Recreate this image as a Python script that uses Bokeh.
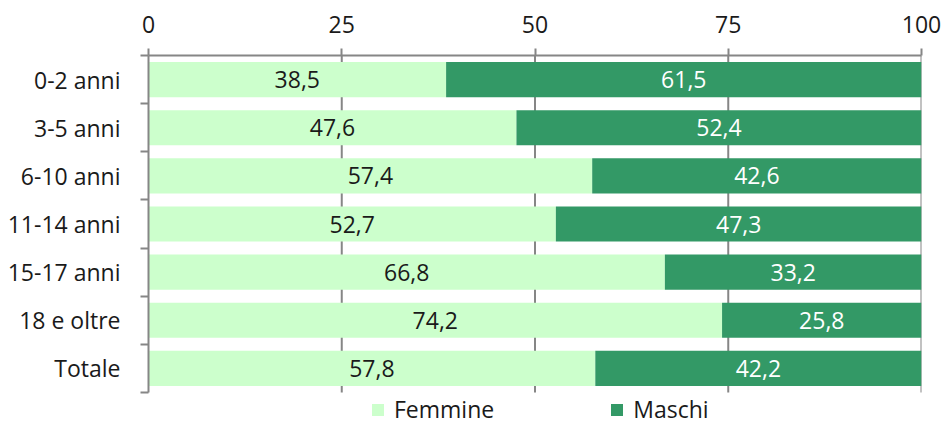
from bokeh.plotting import figure
from bokeh.models import Range1d, FixedTicker, LinearAxis, Legend, LegendItem, ColumnDataSource
from bokeh.core.properties import value
from bokeh.embed import file_html
from bokeh.resources import INLINE

categories = ["0-2 anni", "3-5 anni", "6-10 anni", "11-14 anni", "15-17 anni", "18 e oltre", "Totale"]
femmine = [38.5, 47.6, 57.4, 52.7, 66.8, 74.2, 57.8]
maschi = [61.5, 52.4, 42.6, 47.3, 33.2, 25.8, 42.2]
x_ticks = [0, 25, 50, 75, 100]
series_names = ["Femmine", "Maschi"]
colors = ["#CCFFCC", "#339966"]
text_colors = ["#1a1a1a", "#ffffff"]

FONT = "Open Sans"
FS = "23px"
GRAY = "#868686"

n = len(categories)
centers = [i + 0.5 for i in range(n)]
bounds = [float(i) for i in range(n + 1)]

# layout: rows occupy 337px from top of frame, extra room below for the legend
W, H = 941, 425
TOP, LEFT, RIGHT = 55, 148, 20
rows_px = 337
frame_h = H - TOP
y_extent = n * frame_h / rows_px

p = figure(width=W, height=H, output_backend="svg", toolbar_location=None,
           x_range=Range1d(0, 100), y_range=Range1d(y_extent, 0),
           x_axis_location=None, y_axis_location=None,
           min_border_left=LEFT, min_border_right=RIGHT, min_border_top=TOP, min_border_bottom=0)
p.outline_line_color = None
p.background_fill_color = "white"

# top axis
xa = LinearAxis(ticker=FixedTicker(ticks=x_ticks, minor_ticks=[]))
xa.axis_line_color = GRAY
xa.axis_line_width = 2
xa.major_tick_line_color = GRAY
xa.major_tick_line_width = 2
xa.major_tick_out = 7
xa.major_tick_in = 0
xa.minor_tick_line_color = None
xa.major_label_text_font = FONT
xa.major_label_text_font_size = FS
xa.major_label_text_color = "#1a1a1a"
xa.major_label_standoff = 16
p.add_layout(xa, "above")

# left axis: labels at centers, ticks at boundaries (minor)
ya = LinearAxis(ticker=FixedTicker(ticks=centers, minor_ticks=bounds), bounds=(0, n))
ya.major_label_overrides = {c: lab for c, lab in zip(centers, categories)}
ya.axis_line_color = GRAY
ya.axis_line_width = 2
ya.major_tick_line_color = None
ya.major_tick_out = 0
ya.major_tick_in = 0
ya.minor_tick_line_color = GRAY
ya.minor_tick_line_width = 2
ya.minor_tick_out = 8
ya.minor_tick_in = 0
ya.major_label_text_font = FONT
ya.major_label_text_font_size = FS
ya.major_label_text_color = "#1a1a1a"
ya.major_label_standoff = 20
p.add_layout(ya, "left")

for g in p.grid:
    g.grid_line_color = None

# vertical gridlines limited to the rows area
gx = x_ticks[1:]
p.segment(x0=gx, x1=gx, y0=[0] * len(gx), y1=[n] * len(gx), line_color=GRAY, line_width=2)

fem_src = ColumnDataSource(dict(y=centers, left=[0] * n, right=femmine,
                                xm=[v / 2 for v in femmine],
                                lab=[f"{v:.1f}".replace(".", ",") for v in femmine]))
mas_src = ColumnDataSource(dict(y=centers, left=femmine, right=[f + m for f, m in zip(femmine, maschi)],
                                xm=[f + m / 2 for f, m in zip(femmine, maschi)],
                                lab=[f"{v:.1f}".replace(".", ",") for v in maschi]))

r1 = p.hbar(y="y", left="left", right="right", height=0.73, source=fem_src,
            fill_color=colors[0], line_color=None)
r2 = p.hbar(y="y", left="left", right="right", height=0.73, source=mas_src,
            fill_color=colors[1], line_color=None)

for src, tc in ((fem_src, text_colors[0]), (mas_src, text_colors[1])):
    p.text(x="xm", y="y", text="lab", source=src, text_align="center", text_baseline="middle",
           text_font=value(FONT), text_font_size=FS, text_color=tc)

legend = Legend(items=[LegendItem(label=series_names[0], renderers=[r1]),
                       LegendItem(label=series_names[1], renderers=[r2])],
                orientation="horizontal", location=(222, 0))
legend.padding = 0
legend.margin = 0
legend.border_line_color = None
legend.background_fill_alpha = 0
legend.glyph_width = 15
legend.glyph_height = 15
legend.label_standoff = 9
legend.spacing = 115
legend.label_text_font = FONT
legend.label_text_font_size = FS
legend.label_text_color = "#1a1a1a"
p.add_layout(legend, "center")

open("out.html", "w").write(file_html(p, INLINE))
